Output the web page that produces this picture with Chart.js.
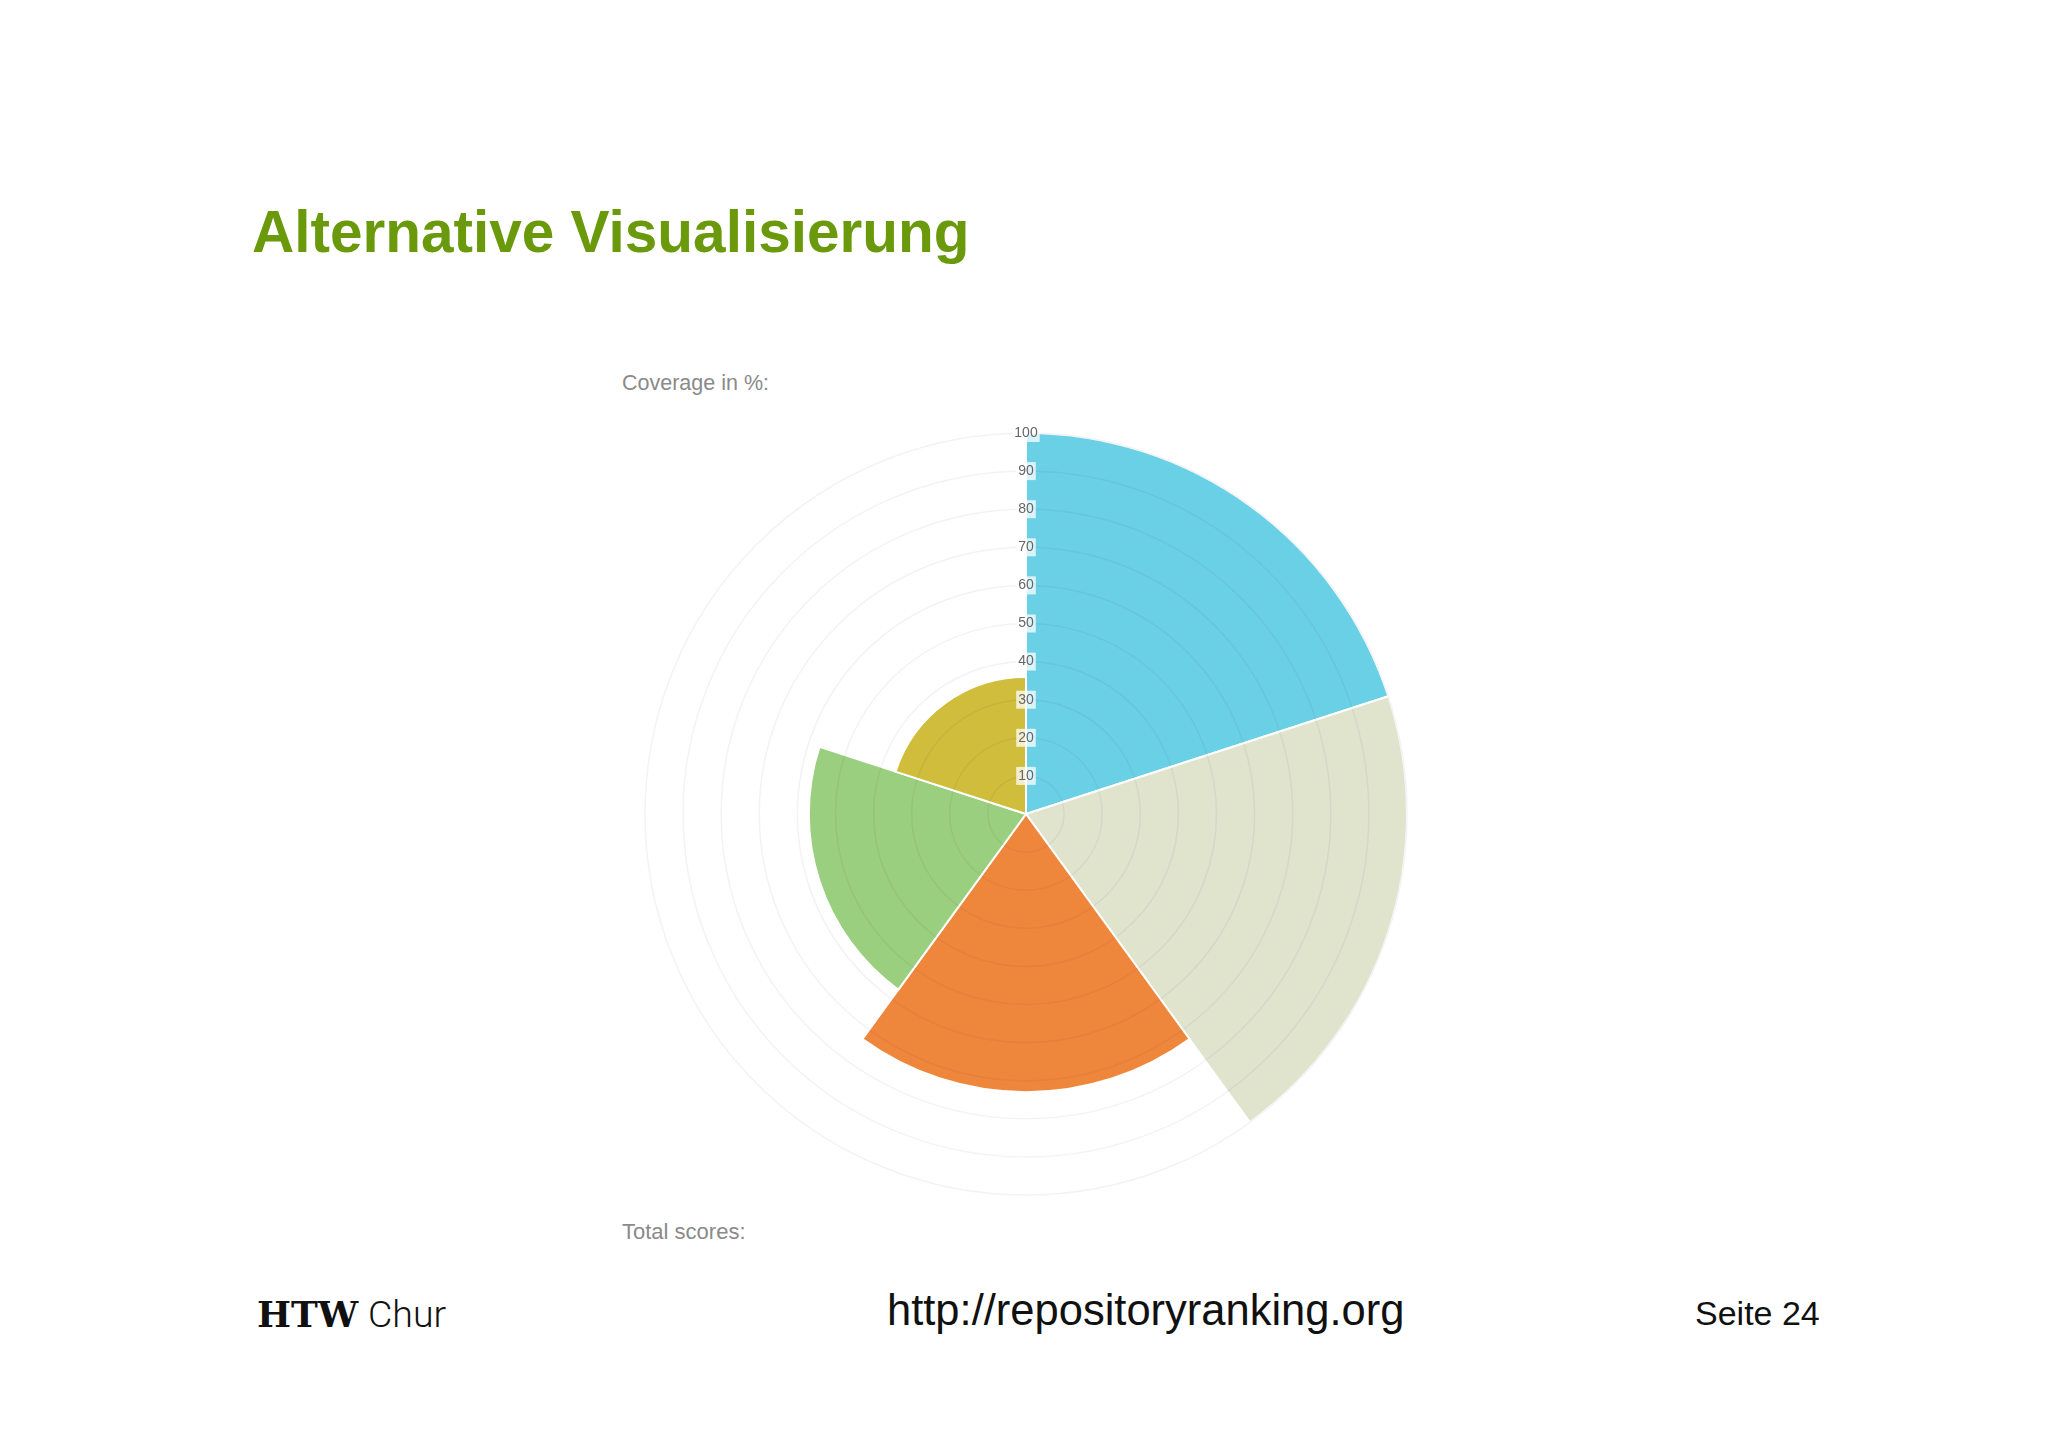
<!DOCTYPE html>
<html>
<head>
<meta charset="utf-8">
<script src="https://cdn.jsdelivr.net/npm/chart.js@4"></script>
<style>
  html, body { margin: 0; padding: 0; background: #ffffff; }
  body { width: 2048px; height: 1447px; position: relative; overflow: hidden; font-family: "Liberation Sans", Arial, sans-serif; }
  .txt { position: absolute; white-space: nowrap; line-height: 1; }
  #title { left: 252px; top: 203px; font-size: 58.5px; font-weight: bold; color: #6a9a0c; }
  #coverage { left: 622px; top: 373px; font-size: 21.5px; color: #8a8a8a; }
  #total { left: 622px; top: 1221px; font-size: 22px; color: #8a8a8a; }
  #htw { left: 257px; top: 1296px; font-size: 36px; font-family: "DejaVu Serif", serif; font-weight: bold; color: #111; }
  #chur { left: 368px; top: 1296px; font-size: 37.5px; font-family: Roboto, sans-serif; font-weight: 300; color: #111; }
  #url { left: 887px; top: 1289px; font-size: 43.5px; color: #111; }
  #page { left: 1695px; top: 1296px; font-size: 34px; color: #111; }
  #wrap { position: absolute; left: 636px; top: 424px; width: 780px; height: 780px; }
</style>
</head>
<body>
<div class="txt" id="title">Alternative Visualisierung</div>
<div class="txt" id="coverage">Coverage in %:</div>
<div class="txt" id="total">Total scores:</div>
<div class="txt" id="htw">HTW</div>
<div class="txt" id="chur">Chur</div>
<div class="txt" id="url">http://repositoryranking.org</div>
<div class="txt" id="page">Seite 24</div>
<div id="wrap"><canvas id="polarCanvas" width="780" height="780"></canvas></div>

<script>
// values, clockwise from the top
const categories = ['Segment 1', 'Segment 2', 'Segment 3', 'Segment 4', 'Segment 5'];
const coverage = [100, 100, 73, 57, 36];
const segmentColors = ['#6ad0e6', '#e0e4cd', '#ee873c', '#99cf7e', '#cfbd3b'];
const tickValues = [10, 20, 30, 40, 50, 60, 70, 80, 90, 100];

const polarCanvas = document.getElementById('polarCanvas');
const ctx = polarCanvas.getContext('2d');

let polarChart = new Chart(ctx, {
    type: 'polarArea',
    data: {
        labels: categories,
        datasets: [{
            data: coverage,
            backgroundColor: segmentColors,
            borderColor: '#ffffff',
            borderWidth: 2
        }]
    },
    options: {
        responsive: false,
        animation: false,
        layout: { padding: 0 },
        plugins: {
            legend: { display: false },
            tooltip: { enabled: false }
        },
        scales: {
            r: {
                min: 0,
                max: 100,
                startAngle: 0,
                grid: {
                    color: 'rgba(60, 40, 80, 0.06)',
                    lineWidth: 1.5,
                    z: 1
                },
                ticks: {
                    z: 2,
                    stepSize: 10,
                    color: '#666666',
                    font: { family: 'Liberation Sans', size: 14 },
                    showLabelBackdrop: true,
                    backdropColor: 'rgba(255,255,255,0.75)',
                    backdropPadding: 2,
                    callback: (value) => tickValues.includes(value) ? value : ''
                }
            }
        }
    }
});
</script>
</body>
</html>
